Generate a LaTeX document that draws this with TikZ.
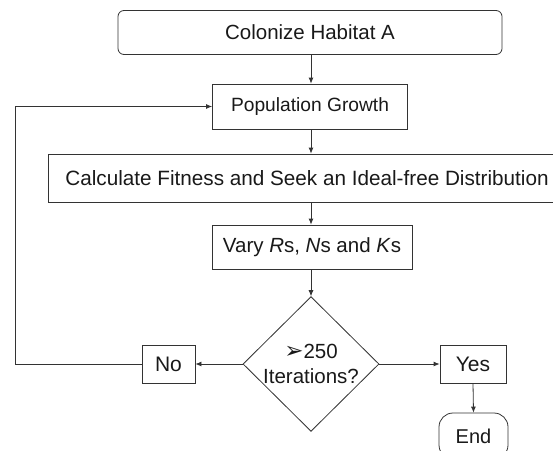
\documentclass[tikz,border=0pt]{standalone}
\usepackage{fontspec}
\setmainfont{Liberation Sans}
\newfontfamily\symfont{DejaVu Sans}
\usetikzlibrary{shapes.geometric,arrows.meta}
\newcommand{\fsz}[1]{\fontsize{#1}{#1}\selectfont}
\begin{document}
\begin{tikzpicture}[x=1pt,y=-1pt,
  every node/.style={font=\fsz{20.5}, text=black!90},
  boxnode/.style={draw=black!80, line width=0.8pt, inner sep=0pt, anchor=center},
  conn/.style={draw=black!80, line width=0.8pt, -{Latex[length=6pt,width=5pt]}}]
\useasboundingbox (0,0) rectangle (553,450);
\node[boxnode, rounded corners=6pt, minimum width=384pt, minimum height=44pt, font=\fsz{20.5}] (top) at (310,32.5) {Colonize Habitat A};
\node[boxnode, minimum width=195pt, minimum height=45pt, font=\fsz{19.2}] (pop) at (310,106.5) {Population Growth};
\node[boxnode, minimum width=522pt, minimum height=48pt, font=\fsz{20.7}] (calc) at (309,178) {\hspace*{-4pt}Calculate Fitness and Seek an Ideal-free Distribution};
\node[boxnode, minimum width=200pt, minimum height=44pt, font=\fsz{20.5}] (vary) at (312,247) {Vary \textit{R}s, \textit{N}s and \textit{K}s};
\node[boxnode, shape=diamond, minimum width=136pt, minimum height=132pt, align=center, font=\fsz{20.5}] (dia) at (311,364) {{\symfont\fsz{23}➢}250\\[4pt]Iterations?};
\node[boxnode, minimum width=53pt, minimum height=38pt, font=\fsz{21}] (no) at (168.5,364) {No};
\node[boxnode, minimum width=66pt, minimum height=38pt, font=\fsz{21}] (yes) at (473,364) {Yes};
\node[boxnode, rounded corners=14pt, minimum width=69pt, minimum height=46pt, font=\fsz{20}] (end) at (473.5,436) {End};
\coordinate (loop) at (15,364);
\draw[conn] (top.south -| 311,0) -- (pop.north -| 311,0);
\draw[conn] (pop.south -| 311,0) -- (calc.north -| 311,0);
\draw[conn] (calc.south -| 311,0) -- (vary.north -| 311,0);
\draw[conn] (vary.south -| 311,0) -- (dia.north);
\draw[conn] (dia.west) -- (no.east);
\draw[conn] (dia.east) -- (yes.west);
\draw[conn] (yes.south) -- (end.north);
\draw[conn] (no.west) -- (loop) |- (pop.west);
\end{tikzpicture}
\end{document}
